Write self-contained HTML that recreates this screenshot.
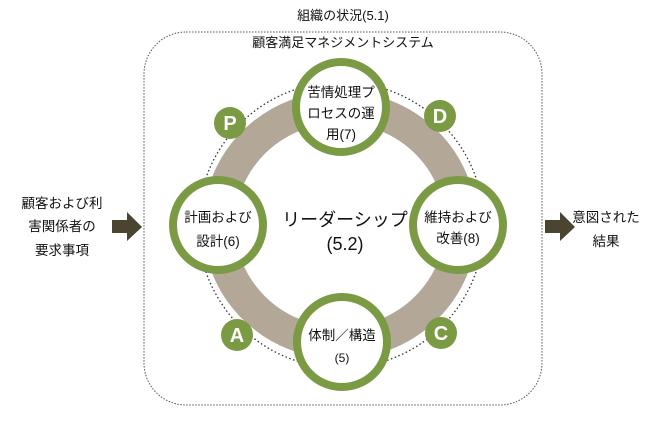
<!DOCTYPE html>
<html><head><meta charset="utf-8"><style>
html,body{margin:0;padding:0;background:#fff;}
svg text{font-family:"Liberation Sans","Noto Sans CJK JP",sans-serif;fill:#111;}
</style></head><body>
<svg width="650" height="425" viewBox="0 0 650 425" xmlns="http://www.w3.org/2000/svg">
<rect x="144" y="32" width="398" height="373" rx="42" ry="42" fill="none" stroke="#555" stroke-width="1" stroke-dasharray="1.5,1.5"/>
<text x="343" y="20" font-size="13" text-anchor="middle">組織の状況(5.1)</text>
<text x="343" y="47" font-size="13" text-anchor="middle">顧客満足マネジメントシステム</text>
<circle cx="341" cy="225" r="143" fill="none" stroke="#333" stroke-width="1.3" stroke-dasharray="1.5,2.5"/>
<ellipse cx="340" cy="225" rx="121" ry="118" fill="none" stroke="#b3a797" stroke-width="32"/>
<g fill="#fff" stroke="#7a9a43" stroke-width="8">
<circle cx="341" cy="107" r="45"/>
<circle cx="342" cy="342" r="45"/>
<circle cx="218" cy="225" r="45"/>
<circle cx="458" cy="225" r="45"/>
</g>
<g fill="#7a9a43">
<circle cx="230" cy="123" r="16"/>
<circle cx="440" cy="116" r="16"/>
<circle cx="237" cy="335" r="16"/>
<circle cx="441" cy="333" r="16"/>
</g>
<g font-size="20" font-weight="bold" text-anchor="middle">
<text x="230" y="130" style="fill:#fff">P</text>
<text x="440" y="123" style="fill:#fff">D</text>
<text x="237" y="342" style="fill:#fff">A</text>
<text x="441" y="340" style="fill:#fff">C</text>
</g>
<g font-size="13.5" text-anchor="middle">
<text x="341" y="97">苦情処理プ</text>
<text x="341" y="118">ロセスの運</text>
<text x="341" y="139">用(7)</text>
<text x="218" y="222">計画および</text>
<text x="218" y="246">設計(6)</text>
<text x="458" y="222">維持および</text>
<text x="458" y="243">改善(8)</text>
<text x="342" y="340">体制／構造</text>
<text x="342" y="362" font-size="12">(5)</text>
<text x="345" y="226" font-size="18">リーダーシップ</text>
<text x="345" y="250" font-size="18">(5.2)</text>
<text x="62" y="208">顧客および利</text>
<text x="62" y="231">害関係者の</text>
<text x="62" y="255">要求事項</text>
<text x="606" y="222">意図された</text>
<text x="606" y="246">結果</text>
</g>
<polygon points="112,220 127,220 127,212 142,227 127,241 127,233 112,233" fill="#4a4430"/>
<polygon points="545,220 560,220 560,212 575,227 560,241 560,233 545,233" fill="#4a4430"/>
</svg>
</body></html>
